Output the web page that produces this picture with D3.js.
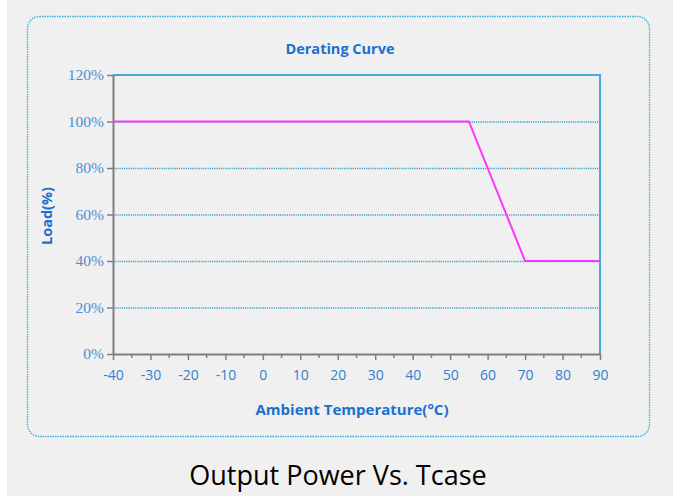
<!DOCTYPE html>
<html>
<head>
<meta charset="utf-8">
<script src="https://cdn.jsdelivr.net/npm/d3@7"></script>
<style>
  html, body { margin: 0; padding: 0; background: #ffffff; }
  #chart { width: 673px; height: 496px; }
</style>
</head>
<body>
<div id="chart"></div>
<script>
// Derating curve data
const temps = [-40, 55, 70, 90];
const loads = [100, 100, 40, 40];
const xTicks = [-40, -30, -20, -10, 0, 10, 20, 30, 40, 50, 60, 70, 80, 90];
const yTicks = [0, 20, 40, 60, 80, 100, 120];
const gridTicks = [20, 40, 60, 80, 100];

const width = 673, height = 496;
const margin = { top: 75, right: 73, bottom: 142, left: 113 };
const innerWidth = width - margin.left - margin.right;
const innerHeight = height - margin.top - margin.bottom;

const root = d3.select("#chart").append("svg")
    .attr("width", width)
    .attr("height", height);

// Page background
root.append("rect").attr("x", 7).attr("y", 0)
    .attr("width", width - 7).attr("height", height)
    .attr("fill", "#f0f0f0");

// Dotted rounded frame
root.append("rect")
    .attr("x", 27.5).attr("y", 16.5)
    .attr("width", 622).attr("height", 420)
    .attr("rx", 12).attr("ry", 12)
    .attr("fill", "none")
    .attr("stroke", "#3aaede")
    .attr("stroke-width", 1.3)
    .attr("stroke-dasharray", "1.5,1");

const svg = root.append("g")
    .attr("transform", `translate(${margin.left},${margin.top})`);

const x = d3.scaleLinear().domain([-40, 90]).range([0, innerWidth]);
const y = d3.scaleLinear().domain([0, 120]).range([innerHeight, 0]);

// Grid lines (dotted)
svg.append("g").selectAll("line")
    .data(gridTicks)
    .join("line")
    .attr("x1", 0).attr("x2", innerWidth)
    .attr("y1", d => y(d) + 0.5).attr("y2", d => y(d) + 0.5)
    .attr("stroke", "#3a9ec8")
    .attr("stroke-width", 1.3)
    .attr("stroke-dasharray", "1.2,1");

// Top and right border (blue)
svg.append("path")
    .attr("d", `M0,${y(120)}H${innerWidth}V${innerHeight}`)
    .attr("fill", "none")
    .attr("stroke", "#46a8d6")
    .attr("stroke-width", 2);

// Minor x ticks
const minorTicks = d3.range(-35, 90, 10);
svg.append("g").selectAll("line")
    .data(minorTicks)
    .join("line")
    .attr("x1", d => x(d)).attr("x2", d => x(d))
    .attr("y1", innerHeight).attr("y2", innerHeight + 4)
    .attr("stroke", "#7f7f7f").attr("stroke-width", 1.5);

// X axis (plain hyphen for negatives, like the original)
const xAxis = svg.append("g")
    .attr("transform", `translate(0,${innerHeight})`)
    .call(d3.axisBottom(x).tickValues(xTicks).tickSize(6).tickSizeOuter(0).tickPadding(10)
        .tickFormat(d => String(d)));
xAxis.select(".domain").attr("stroke", "#7f7f7f").attr("stroke-width", 2);
xAxis.selectAll(".tick line").attr("stroke", "#7f7f7f").attr("stroke-width", 1.5);
xAxis.selectAll(".tick text")
    .attr("fill", "#2f7fd2")
    .style("font-family", "'Open Sans', sans-serif")
    .style("font-size", "14px");

// Y axis
const yAxis = svg.append("g")
    .call(d3.axisLeft(y).tickValues(yTicks).tickSize(6).tickSizeOuter(0).tickPadding(3)
        .tickFormat(d => d + "%"));
yAxis.select(".domain").attr("stroke", "#7f7f7f").attr("stroke-width", 2);
yAxis.selectAll(".tick line").attr("stroke", "#7f7f7f").attr("stroke-width", 1.5);
yAxis.selectAll(".tick text")
    .attr("fill", "#4a8fd4")
    .style("font-family", "'Liberation Serif', serif")
    .style("font-size", "15.5px");

// Derating line
const line = d3.line()
    .x((d, i) => x(temps[i]))
    .y(d => y(d));
svg.append("path")
    .datum(loads)
    .attr("fill", "none")
    .attr("stroke", "#ff33ff")
    .attr("stroke-width", 2)
    .attr("d", line);

// Title and axis labels
root.append("text")
    .attr("x", 340).attr("y", 54)
    .attr("text-anchor", "middle")
    .attr("fill", "#1b6fce")
    .style("font-family", "'Open Sans', sans-serif")
    .style("font-weight", "bold")
    .style("font-size", "14.5px")
    .text("Derating Curve");

root.append("text")
    .attr("x", 352).attr("y", 415)
    .attr("text-anchor", "middle")
    .attr("fill", "#1b6fce")
    .style("font-family", "'Open Sans', sans-serif")
    .style("font-weight", "bold")
    .style("font-size", "15px")
    .text("Ambient Temperature(°C)");

root.append("text")
    .attr("transform", "translate(52,216) rotate(-90)")
    .attr("text-anchor", "middle")
    .attr("fill", "#1b6fce")
    .style("font-family", "'Open Sans', sans-serif")
    .style("font-weight", "bold")
    .style("font-size", "14.5px")
    .text("Load(%)");

// Caption
root.append("text")
    .attr("x", 338).attr("y", 485)
    .attr("text-anchor", "middle")
    .attr("fill", "#000")
    .style("font-family", "'Open Sans', sans-serif")
    .style("font-size", "27px")
    .text("Output Power Vs. Tcase");
</script>
</body>
</html>
